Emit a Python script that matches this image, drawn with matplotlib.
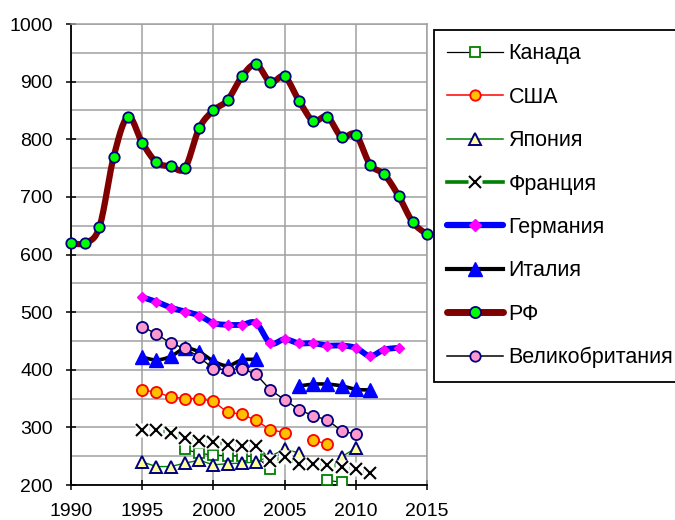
import numpy as np
import matplotlib
matplotlib.use('Agg')
import matplotlib.pyplot as plt
from matplotlib.lines import Line2D

plt.rcParams['font.family'] = ['Liberation Sans', 'DejaVu Sans']

nan = np.nan

# ---- data ----
years_canada = list(range(1998, 2010))
canada = [262, 255, 252, 251, 250, 250, 227, nan, nan, nan, 208, 205]

years_usa = list(range(1995, 2009))
usa = [365, 361, 353, 350, 350, 345, 326, 323, 312, 296, 291, nan, 278, 271]

years_japan = list(range(1995, 2011))
japan = [240, 232, 232, 238, 243, 235, 237, 238, 240, 250, 262, 256, nan, nan, 249, 264]

years_france = list(range(1995, 2012))
france = [296, 296, 290, 282, 277, 274, 270, 268, 268, 241, 249, 236, 236, 235, 232, 227, 220]

years_germany = list(range(1995, 2014))
germany = [526, 518, 508, 501, 494, 481, 478, 478, 481, 446, 453, 446, 446, 442, 442, 438, 424, 435, 438]

years_italy = list(range(1995, 2012))
italy = [422, 417, 423, 437, 431, 415, 407, 417, 418, nan, nan, 372, 375, 375, 372, 366, 365]

years_rf = list(range(1990, 2016))
rf = [620, 620, 648, 770, 839, 794, 760, 753, 750, 819, 850, 868, 909, 930,
      899, 909, 867, 832, 839, 804, 808, 756, 739, 702, 656, 635]

years_uk = list(range(1995, 2011))
uk = [475, 462, 446, 437, 422, 402, 400, 402, 392, 365, 348, 331, 320, 313, 294, 288]

labels = ['Канада', 'США', 'Япония', 'Франция', 'Германия', 'Италия', 'РФ', 'Великобритания']


def smooth_segments(x, y, n=16):
    """Catmull-Rom (Excel-like) smoothing of each contiguous run of values."""
    x = np.asarray(x, float)
    y = np.asarray(y, float)
    out_x, out_y = [], []
    ok = ~np.isnan(y)
    i = 0
    while i < len(y):
        if not ok[i]:
            i += 1
            continue
        j = i
        while j < len(y) and ok[j]:
            j += 1
        px, py = x[i:j], y[i:j]
        if len(px) < 3:
            sx, sy = list(px), list(py)
        else:
            P = np.column_stack([px, py])
            P = np.vstack([P[0], P, P[-1]])
            sx, sy = [], []
            t = np.linspace(0, 1, n)
            for k in range(1, len(P) - 2):
                p0, p1, p2, p3 = P[k - 1], P[k], P[k + 1], P[k + 2]
                c1 = p1 + (p2 - p0) / 6
                c2 = p2 - (p3 - p1) / 6
                b = ((1 - t) ** 3)[:, None] * p1 + (3 * (1 - t) ** 2 * t)[:, None] * c1 \
                    + (3 * (1 - t) * t ** 2)[:, None] * c2 + (t ** 3)[:, None] * p2
                sx.extend(b[:, 0]); sy.extend(b[:, 1])
        out_x.extend(sx + [nan]); out_y.extend(sy + [nan])
        i = j
    return out_x, out_y


fig = plt.figure(figsize=(6.75, 5.2), dpi=100)
ax = fig.add_axes([71 / 675, 35 / 520, 356 / 675, 461 / 520])
ax.set_xlim(1990, 2015)
ax.set_ylim(200, 1000)
ax.set_xticks(range(1990, 2016, 5))
ax.set_yticks(range(200, 1001, 100))
ax.set_yticks(range(250, 1000, 100), minor=True)
ax.grid(which='major', color='#A0A0A0', lw=1.1, zorder=0)
ax.grid(which='minor', axis='y', color='#A0A0A0', lw=1.1, zorder=0)
ax.set_axisbelow(True)
ax.tick_params(which='major', direction='inout', length=7, width=1.1, labelsize=14, pad=9.5, color='black')
ax.tick_params(which='minor', length=0)
for s in ['left', 'bottom']:
    ax.spines[s].set_color('black'); ax.spines[s].set_linewidth(1.3)
for s in ['top', 'right']:
    ax.spines[s].set_color('#A0A0A0'); ax.spines[s].set_linewidth(1.1)

handles = []
z = 3

# Canada
ax.plot(years_canada, canada, color='black', lw=0.8, zorder=z)
ax.plot(years_canada, canada, ls='none', marker='s', ms=7, mfc='white', mec='#008000', mew=1.3, zorder=z + 0.1)
handles.append((Line2D([], [], color='black', lw=0.9), Line2D([], [], ls='none', marker='s', ms=6.5, mfc='white', mec='#008000', mew=1.3)))
z += 1
# USA
ax.plot(years_usa, usa, color='#FF0000', lw=1.0, zorder=z)
ax.plot(years_usa, usa, ls='none', marker='o', ms=8, mfc='#FFC000', mec='#FF0000', mew=1.3, zorder=z + 0.1)
handles.append(Line2D([], [], color='#FF0000', lw=1.1, marker='o', ms=7.5, mfc='#FFC000', mec='#FF0000', mew=1.3))
z += 1
# Japan
ax.plot(years_japan, japan, color='#008000', lw=1.0, zorder=z)
ax.plot(years_japan, japan, ls='none', marker='^', ms=9, mfc='#FFFF99', mec='#000080', mew=1.4, zorder=z + 0.1)
handles.append(Line2D([], [], color='#008000', lw=1.1, marker='^', ms=8.5, mfc='#FFFF99', mec='#000080', mew=1.4))
z += 1
# France
ax.plot(years_france, france, color='#008000', lw=2.4, zorder=z)
ax.plot(years_france, france, ls='none', marker='s', ms=9.5, mfc='white', mec='none', zorder=z + 0.05)
ax.plot(years_france, france, ls='none', marker='x', ms=9, mec='black', mew=1.5, zorder=z + 0.1)
handles.append((Line2D([], [], color='#008000', lw=2.6),
                Line2D([], [], ls='none', marker='s', ms=9.5, mfc='white', mec='none'),
                Line2D([], [], ls='none', marker='x', ms=8.5, mec='black', mew=1.5)))
z += 1
# Germany
gx, gy = smooth_segments(years_germany, germany)
ax.plot(gx, gy, color='#0000FF', lw=4.2, zorder=z, solid_capstyle='round')
ax.plot(years_germany, germany, ls='none', marker='D', ms=5.5, mfc='#FF00FF', mec='#FF00FF', zorder=z + 0.1)
handles.append(Line2D([], [], color='#0000FF', lw=4.5, marker='D', ms=6, mfc='#FF00FF', mec='#FF00FF', solid_capstyle='round'))
z += 1
# Italy
ix, iy = smooth_segments(years_italy, italy)
ax.plot(ix, iy, color='black', lw=2.6, zorder=z)
ax.plot(years_italy, italy, ls='none', marker='^', ms=10, mfc='#0000FF', mec='#0000FF', zorder=z + 0.1)
handles.append(Line2D([], [], color='black', lw=3.0, marker='^', ms=10, mfc='#0000FF', mec='#0000FF'))
z += 1
# RF
rx, ry = smooth_segments(years_rf, rf)
ax.plot(rx, ry, color='#800000', lw=4.5, zorder=z, clip_on=False, solid_capstyle='round')
ax.plot(years_rf, rf, ls='none', marker='o', ms=7.5, mfc='#00FF00', mec='#000080', mew=1.3, zorder=z + 0.1, clip_on=False)
handles.append(Line2D([], [], color='#800000', lw=5.0, marker='o', ms=8, mfc='#00FF00', mec='#000080', mew=1.3, solid_capstyle='round'))
z += 1
# UK
ax.plot(years_uk, uk, color='black', lw=1.0, zorder=z)
ax.plot(years_uk, uk, ls='none', marker='o', ms=8, mfc='#FF99CC', mec='#000080', mew=1.3, zorder=z + 0.1)
handles.append(Line2D([], [], color='black', lw=1.1, marker='o', ms=7.5, mfc='#FF99CC', mec='#000080', mew=1.3))

leg = fig.legend(handles, labels, loc='upper left', bbox_to_anchor=(434 / 675, 1 - 30 / 520),
                 bbox_transform=fig.transFigure, fontsize=15.5, frameon=True, fancybox=False,
                 edgecolor='black', framealpha=1, borderaxespad=0, borderpad=0.62,
                 handlelength=2.6, handletextpad=0.25, labelspacing=1.04)
leg.get_frame().set_linewidth(1.3)

fig.savefig('out.png', dpi=100)
